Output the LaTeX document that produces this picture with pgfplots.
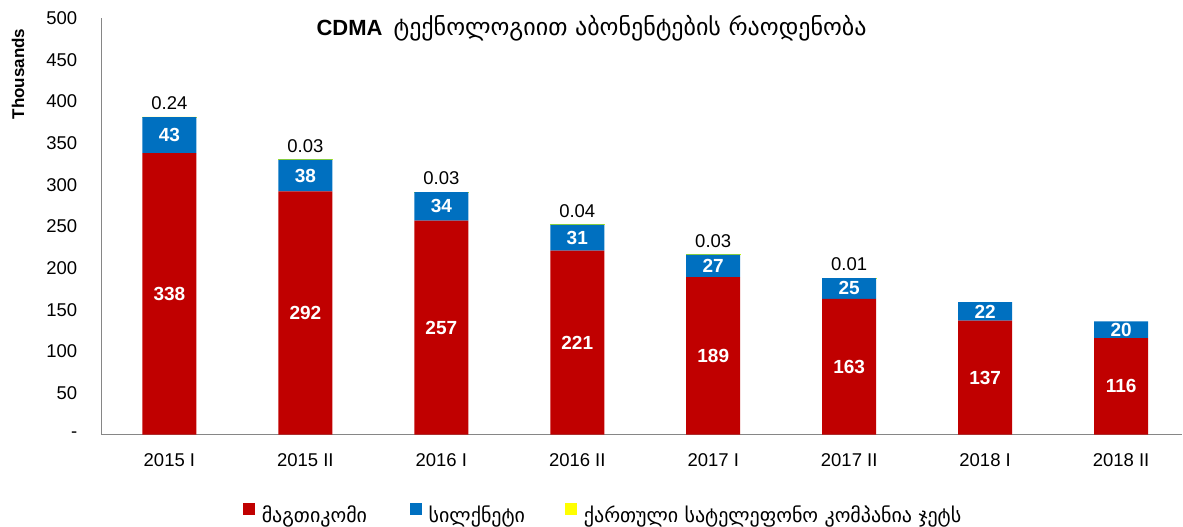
\documentclass[border=0pt]{standalone}
\usepackage{fontspec}
\setmainfont{Liberation Sans}
\newfontfamily\geo{DejaVu Sans}
\usepackage{pgfplots}
\usepackage{pgfplotstable}
\pgfplotsset{compat=1.18}
\definecolor{cred}{HTML}{C00000}
\definecolor{cblue}{HTML}{0070C0}
\definecolor{cyel}{HTML}{FFFF00}
\definecolor{axgray}{HTML}{868686}

\pgfplotstableread{
x red blue yellow
0 338 43 0.24
1 292 38 0.03
2 257 34 0.03
3 221 31 0.04
4 189 27 0.03
5 163 25 0.01
6 137 22 0
7 116 20 0
}\datatable

\pgfplotsset{
  common/.style={width=1081.5pt, height=417pt, scale only axis,
    xmin=-0.5, xmax=7.45, ymin=0, ymax=500},
  sq/.style={legend image code/.code={\fill[##1, draw=none] (0pt,0pt) rectangle (12pt,12pt); \path (19pt,0pt);}},
}

\begin{document}
\begin{tikzpicture}
\begin{axis}[common,
  ybar stacked, bar width=54pt,
  axis x line=bottom, axis y line=left,
  axis line style={axgray, line width=1.5pt, -},
  major tick length=0pt,
  xtick={0,...,7},
  xticklabels={2015 I,2015 II,2016 I,2016 II,2017 I,2017 II,2018 I,2018 II},
  ytick={0,50,...,500},
  yticklabels={-\hspace{10pt},50,100,150,200,250,300,350,400,450,500},
  xticklabel style={font=\fontsize{18.5}{22}\selectfont, anchor=north, inner sep=0pt, yshift=-19pt},
  yticklabel style={font=\fontsize{18.5}{22}\selectfont, anchor=east, inner sep=0pt, xshift=-24pt},
  title={{\bfseries\fontsize{22}{26}\selectfont CDMA}\hspace{11pt}{\geo\fontsize{24}{28}\selectfont ტექნოლოგიით აბონენტების რაოდენობა}},
  title style={at={(axis description cs:0.4535,1)}, anchor=base, yshift=-24pt, inner sep=0pt},
  ylabel={\bfseries\fontsize{17}{20}\selectfont Thousands},
  every axis y label/.style={at={(axis description cs:-0.0772,0.8657)}, rotate=90, anchor=center, inner sep=0pt},
  legend columns=3,
  legend cell align=left,
  legend style={at={(axis description cs:0.1308,-0.19)}, anchor=west, draw=none, fill=none,
    inner sep=0pt, outer sep=0pt, font=\geo\fontsize{20}{24}\selectfont,
    nodes={inner sep=0pt},
    /tikz/every even column/.append style={column sep=0pt},
    /tikz/every odd column/.append style={column sep=0pt}},
]
\addplot[fill=cred, draw=none, sq] table[x=x, y=red] {\datatable};
\addlegendentry{\makebox[148pt][l]{მაგთიკომი}}
\addplot[fill=cblue, draw=none, sq] table[x=x, y=blue] {\datatable};
\addlegendentry{\makebox[136pt][l]{სილქნეტი}}
\addplot[fill=cyel, draw=cyel!80!green, line width=0.6pt, sq, skip coords between index={6}{8}] table[x=x, y=yellow] {\datatable};
\addlegendentry{ქართული სატელეფონო კომპანია ჯეტს}
\end{axis}
\begin{axis}[common, hide axis]
\addplot[draw=none, mark=none, nodes near coords, point meta=explicit symbolic,
  every node near coord/.append style={anchor=center, inner sep=0pt, text=white, font=\bfseries\fontsize{19}{22}\selectfont}]
  table[x=x, y expr=\thisrow{red}/2, meta=red] {\datatable};
\addplot[draw=none, mark=none, nodes near coords, point meta=explicit symbolic,
  every node near coord/.append style={anchor=center, inner sep=0pt, text=white, font=\bfseries\fontsize{19}{22}\selectfont}]
  table[x=x, y expr=\thisrow{red}+\thisrow{blue}/2, meta=blue] {\datatable};
\addplot[draw=none, mark=none, nodes near coords, point meta=explicit symbolic, skip coords between index={6}{8},
  every node near coord/.append style={anchor=south, inner sep=0pt, yshift=7pt, text=black, font=\fontsize{18.5}{22}\selectfont}]
  table[x=x, y expr=\thisrow{red}+\thisrow{blue}+\thisrow{yellow}, meta=yellow] {\datatable};
\end{axis}
\path ([shift={(-101.5pt,-92pt)}]current axis.south west) rectangle ([shift={(0pt,18pt)}]current axis.north east);
\end{tikzpicture}
\end{document}
